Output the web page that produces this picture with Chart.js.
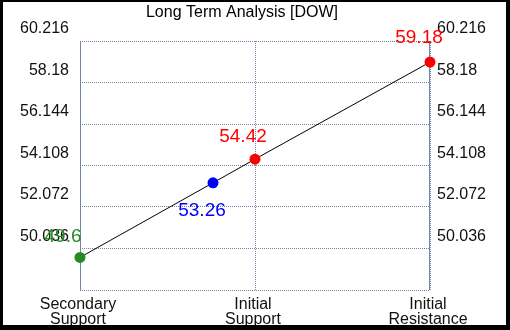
<!DOCTYPE html>
<html>
<head>
<meta charset="utf-8">
<script src="https://cdn.jsdelivr.net/npm/chart.js@4.4.0/dist/chart.umd.min.js"></script>
<style>
    html, body { margin: 0; padding: 0; background: #000; }
    #box { position: absolute; left: 3px; top: 2px; width: 503px; height: 323px; background: #fff; }
</style>
</head>
<body>
<div id="box"><canvas id="levelChart"></canvas></div>
<script>
// Dados do gráfico
const titleText = 'Long Term Analysis [DOW]';
const categories = [['Secondary', 'Support'], ['Initial', 'Support'], ['Initial', 'Resistance']];
const categoryX = [0, 1, 2];
const pointX = [0, 0.76, 1, 2];
const pointValues = [49.6, 53.26, 54.42, 59.18];
const pointColors = ['#228b22', '#0000ff', '#ff0000', '#ff0000'];
const yTicks = [48, 50.036, 52.072, 54.108, 56.144, 58.18, 60.216];

const gridColor = '#7384a8';

// Título desenhado à mão (um pouco à esquerda do centro)
const titlePlugin = {
    id: 'titlePlugin',
    afterDraw(chart) {
        const ctx = chart.ctx;
        ctx.save();
        ctx.font = '16px "Liberation Sans", Arial, sans-serif';
        ctx.fillStyle = '#000';
        ctx.textAlign = 'center';
        ctx.textBaseline = 'alphabetic';
        ctx.fillText(titleText, 239, 15);
        ctx.restore();
    }
};

// Bordas verticais sólidas à esquerda e à direita
const frameLines = {
    id: 'frameLines',
    beforeDatasetsDraw(chart) {
        const ctx = chart.ctx;
        const area = chart.chartArea;
        ctx.save();
        ctx.strokeStyle = gridColor;
        ctx.lineWidth = 1;
        ctx.beginPath();
        ctx.moveTo(Math.round(area.left) + 0.5, area.top);
        ctx.lineTo(Math.round(area.left) + 0.5, area.bottom);
        ctx.moveTo(Math.round(area.right) - 0.5, area.top);
        ctx.lineTo(Math.round(area.right) - 0.5, area.bottom);
        ctx.stroke();
        ctx.restore();
    }
};

// Rótulos dos valores perto de cada ponto
const labelOffsets = [[-17, -21], [-11, 28], [-12, -22], [-11, -24]];
const valueLabels = {
    id: 'valueLabels',
    afterDatasetsDraw(chart) {
        const ctx = chart.ctx;
        const meta = chart.getDatasetMeta(0);
        ctx.save();
        ctx.font = '19px "Liberation Sans", Arial, sans-serif';
        ctx.textAlign = 'center';
        ctx.textBaseline = 'middle';
        meta.data.forEach(function (pt, i) {
            ctx.fillStyle = pointColors[i];
            ctx.fillText(String(pointValues[i]), pt.x + labelOffsets[i][0], pt.y + labelOffsets[i][1]);
        });
        ctx.restore();
    }
};

const tickFont = { family: '"Liberation Sans", Arial, sans-serif', size: 16 };

const ctxLevel = document.getElementById('levelChart').getContext('2d');
new Chart(ctxLevel, {
    type: 'line',
    data: {
        datasets: [{
            data: pointX.map((x, i) => ({ x: x, y: pointValues[i] })),
            borderColor: '#000',
            borderWidth: 1,
            pointRadius: 5.5,
            pointBorderWidth: 0,
            pointBackgroundColor: pointColors,
            pointBorderColor: pointColors,
            fill: false,
            tension: 0,
            clip: false
        }]
    },
    options: {
        responsive: true,
        maintainAspectRatio: false,
        animation: false,
        layout: { padding: { top: 39, left: 0, right: 0, bottom: 0 } },
        plugins: {
            legend: { display: false },
            title: { display: false },
            tooltip: { enabled: false }
        },
        scales: {
            x: {
                type: 'linear',
                min: 0,
                max: 2,
                afterBuildTicks: (scale) => { scale.ticks = categoryX.map(v => ({ value: v })); },
                afterFit: (scale) => { scale.height = 35; },
                ticks: {
                    callback: (value) => categories[categoryX.indexOf(value)],
                    color: '#111',
                    font: Object.assign({ lineHeight: 0.95 }, tickFont),
                    padding: 7,
                    labelOffset: -2,
                    maxRotation: 0,
                    autoSkip: false
                },
                grid: { color: gridColor, drawTicks: false },
                border: { display: false, dash: [1, 1] }
            },
            y: {
                position: 'left',
                min: 48,
                max: 60.216,
                afterBuildTicks: (scale) => { scale.ticks = yTicks.map(v => ({ value: v })); },
                afterFit: (scale) => { scale.width = 77; },
                ticks: {
                    callback: (value) => value === yTicks[0] ? '' : String(value),
                    color: '#111',
                    font: tickFont,
                    padding: 11,
                    labelOffset: -12
                },
                grid: { color: gridColor, drawTicks: false },
                border: { display: false, dash: [1, 1] }
            },
            y2: {
                position: 'right',
                min: 48,
                max: 60.216,
                afterBuildTicks: (scale) => { scale.ticks = yTicks.map(v => ({ value: v })); },
                afterFit: (scale) => { scale.width = 76; },
                ticks: {
                    callback: (value) => value === yTicks[0] ? '' : String(value),
                    color: '#111',
                    font: tickFont,
                    padding: 7,
                    labelOffset: -12
                },
                grid: { display: false, drawTicks: false },
                border: { display: false }
            }
        }
    },
    plugins: [titlePlugin, frameLines, valueLabels]
});
</script>
</body>
</html>
